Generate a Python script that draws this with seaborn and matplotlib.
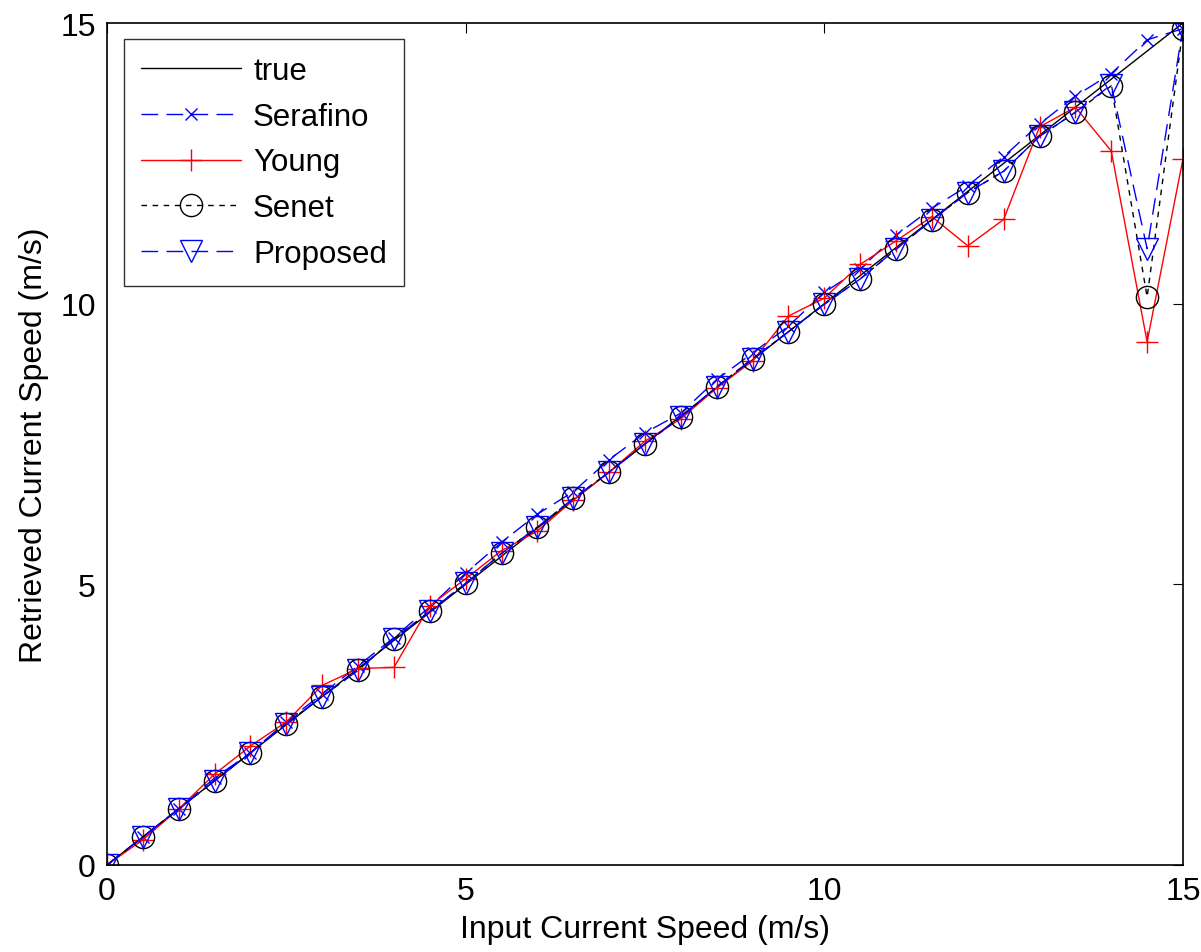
import numpy as np
import pandas as pd
import matplotlib
matplotlib.use("Agg")
import matplotlib.pyplot as plt
import seaborn as sns

sns.set_style("white")
plt.rcParams["font.family"] = ["Liberation Sans", "DejaVu Sans"]
plt.rcParams["text.color"] = "black"
plt.rcParams["axes.labelcolor"] = "black"
plt.rcParams["xtick.color"] = "black"
plt.rcParams["ytick.color"] = "black"

# input speeds (m/s)
speed_in = [0, 0.5, 1, 1.5, 2, 2.5, 3, 3.5, 4, 4.5, 5, 5.5, 6, 6.5, 7, 7.5,
            8, 8.5, 9, 9.5, 10, 10.5, 11, 11.5, 12, 12.5, 13, 13.5, 14, 14.5, 15]

true_vals = [0, 0.5, 1, 1.5, 2, 2.5, 3, 3.5, 4, 4.5, 5, 5.5, 6, 6.5, 7, 7.5,
             8, 8.5, 9, 9.5, 10, 10.5, 11, 11.5, 12, 12.5, 13, 13.5, 14, 14.5, 15]

serafino = [0, 0.5, 1.0, 1.55, 2.0, 2.55, 3.05, 3.55, 4.05, 4.6, 5.2, 5.75,
            6.25, 6.65, 7.22, 7.7, 8.05, 8.65, 9.12, 9.6, 10.2, 10.62, 11.22,
            11.7, 12.1, 12.62, 13.2, 13.7, 14.1, 14.7, 14.9]

young = [0, 0.45, 1.0, 1.62, 2.12, 2.55, 3.2, 3.5, 3.52, 4.62, 5.1, 5.6,
         5.95, 6.5, 7.0, 7.55, 7.95, 8.5, 8.98, 9.78, 10.1, 10.7, 11.12,
         11.55, 11.03, 11.5, 13.15, 13.5, 12.72, 9.32, 12.58]

senet = [0, 0.5, 1.0, 1.5, 2.0, 2.52, 3.0, 3.47, 4.03, 4.52, 5.02, 5.55,
         6.02, 6.53, 7.0, 7.5, 7.98, 8.52, 9.02, 9.5, 9.99, 10.44, 10.97,
         11.49, 11.98, 12.36, 12.98, 13.41, 13.88, 10.12, 14.9]

proposed = [0, 0.5, 1.0, 1.5, 2.0, 2.52, 3.0, 3.47, 4.03, 4.52, 5.02, 5.55,
            6.02, 6.53, 7.0, 7.5, 7.98, 8.52, 9.02, 9.5, 9.99, 10.44, 10.97,
            11.49, 11.98, 12.36, 12.98, 13.41, 13.9, 10.98, 14.92]

fig = plt.figure(figsize=(12.01, 9.53), dpi=100)
ax = fig.add_axes([0.0891, 0.0913, 0.8959, 0.8835])

sns.lineplot(x=speed_in, y=true_vals, ax=ax, color="black", lw=1,
             label="true", sort=False)
sns.lineplot(x=speed_in, y=serafino, ax=ax, color="blue", lw=1,
             marker="x", markersize=9, mec="blue", mew=1, dashes=(12, 6),
             label="Serafino", sort=False)
sns.lineplot(x=speed_in, y=young, ax=ax, color="red", lw=1,
             marker="+", markersize=16, mec="red", mew=1,
             label="Young", sort=False)
sns.lineplot(x=speed_in, y=senet, ax=ax, color="black", lw=1,
             marker="o", markersize=16, mfc="none", mec="black", mew=1,
             dashes=(4, 4), label="Senet", sort=False)
sns.lineplot(x=speed_in, y=proposed, ax=ax, color="blue", lw=1,
             marker="v", markersize=16, mfc="none", mec="blue", mew=1,
             dashes=(12, 6), label="Proposed", sort=False)

ax.set_xlim(0, 15)
ax.set_ylim(0, 15)
ax.set_xticks([0, 5, 10, 15])
ax.set_yticks([0, 5, 10, 15])
ax.tick_params(direction="in", top=True, right=True, length=7,
               labelsize=23, pad=8)
for s in ax.spines.values():
    s.set_color("black")
    s.set_linewidth(1.2)

ax.set_xlabel("Input Current Speed (m/s)", fontsize=23, labelpad=6)
ax.set_ylabel("Retrieved Current Speed (m/s)", fontsize=23, labelpad=8)

leg = ax.legend(loc="upper left", fontsize=22.5, frameon=True, fancybox=False,
                edgecolor="black", handlelength=3.2, handletextpad=0.38,
                borderpad=0.55, labelspacing=0.5, borderaxespad=0,
                bbox_to_anchor=(0.0158, 0.981))
leg.get_frame().set_linewidth(1)

fig.savefig("out.png", dpi=100)
